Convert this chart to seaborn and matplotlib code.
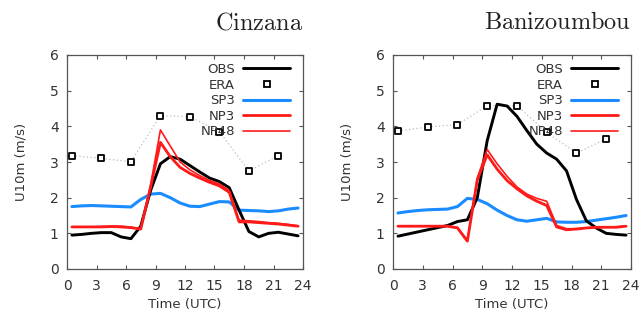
import numpy as np
import pandas as pd
import matplotlib
matplotlib.use("Agg")
import matplotlib.pyplot as plt
import seaborn as sns
from matplotlib.lines import Line2D

sns.set_style("ticks")
plt.rcParams["font.family"] = ["DejaVu Sans"]
plt.rcParams["mathtext.fontset"] = "cm"

hours = np.arange(24) + 0.5
era_hours = np.array([0.5, 3.5, 6.5, 9.5, 12.5, 15.5, 18.5, 21.5])

# Cinzana
cin_obs = [0.95, 0.97, 1.0, 1.02, 1.02, 0.9, 0.85, 1.2, 2.2, 2.95, 3.15, 3.08, 2.9, 2.72, 2.55, 2.45, 2.28,
           1.65, 1.05, 0.9, 1.0, 1.03, 0.98, 0.93]
cin_sp3 = [1.75, 1.77, 1.78, 1.77, 1.76, 1.75, 1.74, 1.95, 2.1, 2.12, 2.0, 1.85, 1.76, 1.75, 1.82, 1.89, 1.88,
           1.65, 1.64, 1.63, 1.61, 1.63, 1.68, 1.71]
cin_np3 = [1.18, 1.18, 1.18, 1.18, 1.19, 1.18, 1.16, 1.12, 2.3, 3.55, 3.15, 2.85, 2.68, 2.55, 2.43, 2.33, 2.15,
           1.32, 1.32, 1.3, 1.28, 1.26, 1.23, 1.2]
cin_np48 = [1.18, 1.18, 1.18, 1.19, 1.2, 1.2, 1.17, 1.13, 2.35, 3.9, 3.45, 3.0, 2.78, 2.62, 2.48, 2.38, 2.2,
            1.37, 1.35, 1.33, 1.3, 1.28, 1.25, 1.21]
cin_era = [3.18, 3.1, 3.01, 4.3, 4.27, 3.85, 2.75, 3.18]

# Banizoumbou
ban_obs = [0.92, 0.98, 1.04, 1.1, 1.16, 1.22, 1.33, 1.38, 2.0, 3.6, 4.62, 4.57, 4.28, 3.88, 3.5, 3.25, 3.08,
           2.75, 1.95, 1.35, 1.15, 1.0, 0.97, 0.95]
ban_sp3 = [1.57, 1.61, 1.64, 1.66, 1.67, 1.68, 1.75, 1.98, 1.95, 1.83, 1.65, 1.5, 1.38, 1.34, 1.38, 1.42, 1.32,
           1.31, 1.31, 1.33, 1.37, 1.41, 1.45, 1.5]
ban_np3 = [1.2, 1.2, 1.2, 1.2, 1.2, 1.2, 1.15, 0.78, 2.5, 3.2, 2.8, 2.48, 2.25, 2.05, 1.9, 1.78, 1.18,
           1.1, 1.12, 1.15, 1.17, 1.17, 1.17, 1.2]
ban_np48 = [1.2, 1.2, 1.2, 1.2, 1.2, 1.2, 1.17, 0.8, 2.55, 3.35, 2.95, 2.6, 2.3, 2.1, 1.98, 1.9, 1.22,
            1.13, 1.13, 1.15, 1.17, 1.17, 1.18, 1.21]
ban_era = [3.87, 3.98, 4.05, 4.58, 4.58, 3.83, 3.25, 3.65]

stations = ["Cinzana", "Banizoumbou"]
blue = "#1a8cff"
red = "#ff1a1a"
frame = "#555555"
txt = "#333333"

fig = plt.figure(figsize=(6.41, 3.15), dpi=100)
axes = [fig.add_axes([67 / 641, 1 - 269 / 315, 236 / 641, 214 / 315]),
        fig.add_axes([393 / 641, 1 - 269 / 315, 238 / 641, 214 / 315])]

data = [(cin_obs, cin_sp3, cin_np3, cin_np48, cin_era), (ban_obs, ban_sp3, ban_np3, ban_np48, ban_era)]

for ax, name, (obs, sp3, np3, np48, era) in zip(axes, stations, data):
    sns.lineplot(x=era_hours, y=era, ax=ax, color="#bbbbbb", linewidth=0.9, linestyle=(0, (1, 2)))
    sns.lineplot(x=hours, y=sp3, ax=ax, color=blue, linewidth=2.2)
    sns.lineplot(x=hours, y=obs, ax=ax, color="black", linewidth=2.1)
    sns.lineplot(x=hours, y=np48, ax=ax, color=red, linewidth=1.2)
    sns.lineplot(x=hours, y=np3, ax=ax, color=red, linewidth=2.0)
    sns.scatterplot(x=era_hours, y=era, ax=ax, marker="s", s=22, facecolor="white",
                    edgecolor="black", linewidth=1.3, zorder=5)

    ax.set_xlim(0, 24)
    ax.set_ylim(0, 6)
    ax.set_xticks(range(0, 25, 3))
    ax.set_yticks(range(0, 7))
    ax.tick_params(direction="in", length=3, width=0.8, color=frame, labelsize=10,
                   labelcolor=txt, top=True, right=True)
    ax.tick_params(axis="x", pad=7)
    ax.tick_params(axis="y", pad=6)
    for sp in ax.spines.values():
        sp.set_color(frame)
        sp.set_linewidth(0.9)
    ax.set_xlabel("Time (UTC)", fontsize=9.5, color=txt, labelpad=4)
    ax.set_ylabel("U10m (m/s)", fontsize=9.5, color=txt, labelpad=16)

    handles = [Line2D([], [], color="black", lw=2.1),
               Line2D([], [], color="none", marker="s", markersize=4.5, markerfacecolor="white",
                      markeredgecolor="black", markeredgewidth=1.3),
               Line2D([], [], color=blue, lw=2.2),
               Line2D([], [], color=red, lw=2.0),
               Line2D([], [], color=red, lw=1.2)]
    leg = ax.legend(handles, ["OBS", "ERA", "SP3", "NP3", "NP48"], loc="upper right", frameon=False,
                    markerfirst=False, fontsize=9.5, handlelength=3.6, handletextpad=0.6,
                    labelspacing=0.2, borderaxespad=0.2, bbox_to_anchor=(0.98, 1.0))
    for t in leg.get_texts():
        t.set_color(txt)
        t.set_ha("right")

    right_edge = ax.get_position().x1
    fig.text(right_edge, 1 - 22 / 315, r"$\mathrm{%s}$" % name, ha="right", va="center", fontsize=17.5,
             color="#222222")

fig.savefig("out.png", dpi=100)
